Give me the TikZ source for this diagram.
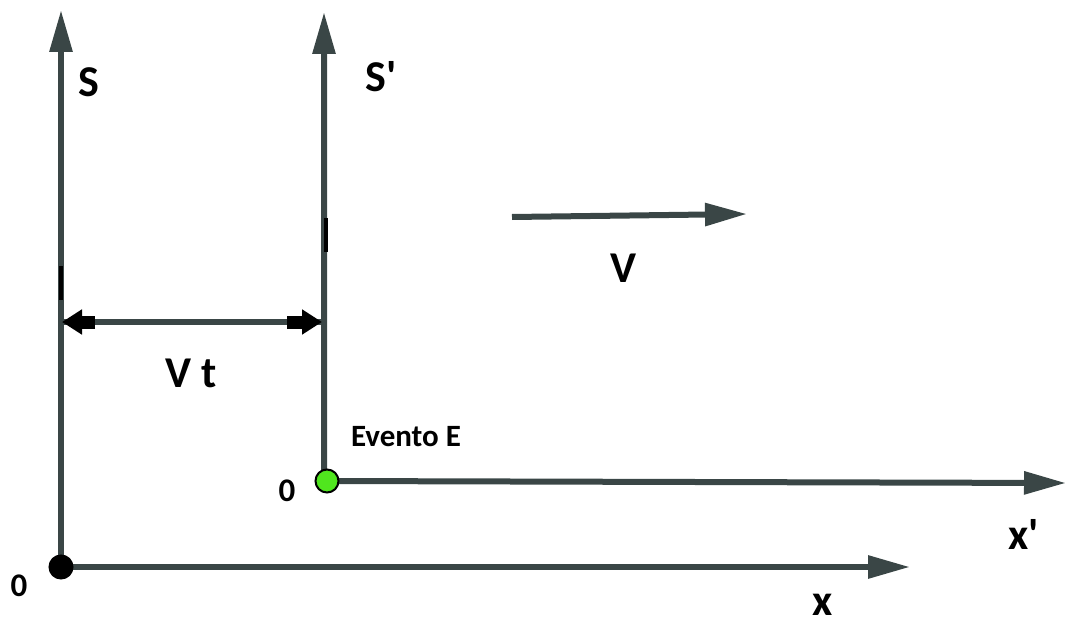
\documentclass[tikz,border=0pt]{standalone}
\usepackage{fontspec}
\setmainfont{Carlito}
\newfontfamily\plainfont{Carlito}[Ligatures=TeXOff]
\usetikzlibrary{arrows.meta}
\definecolor{axis}{RGB}{58,70,70}
\definecolor{evgreen}{RGB}{80,230,30}
\tikzset{
  axisline/.style={draw=axis, line width=6pt, -{Triangle[length=42pt,width=22pt]}},
  lbl/.style={font=\plainfont\bfseries\fontsize{44}{46}\selectfont, text=black, inner sep=0pt},
  small/.style={font=\bfseries\fontsize{31}{33}\selectfont, text=black, inner sep=0pt},
  zero/.style={font=\bfseries\fontsize{33}{35}\selectfont, text=black, inner sep=0pt},
  dot/.style={circle, draw=black, line width=2pt, minimum size=23pt, inner sep=0pt},
  blocktip/.style={draw=black, line width=13pt, -{Triangle[length=20pt,width=24pt]}},
  tick/.style={draw=black, line width=4pt},
}
\begin{document}
\begin{tikzpicture}[x=1pt,y=-1pt]
\useasboundingbox (0,0) rectangle (1066,626);
% origins
\coordinate (O) at (61,567);
\coordinate (Op) at (327,481);
% axis tips
\coordinate (Stip) at (61,10);
\coordinate (xtip) at (910,567);
\coordinate (Sptip) at (324,12);
\coordinate (xptip) at (1066,483);
\coordinate (Vs) at (512,217);
\coordinate (Ve) at (747,214);
% axes
\draw[axisline] (O) -- (Stip);
\draw[axisline] (O) -- (xtip);
\draw[axisline] (Op) -- (324,470) -- (Sptip);
\draw[axisline] (Op) -- (xptip);
\draw[axisline] (Vs) -- (Ve);
% small marks on the vertical axes
\draw[tick] (61,266) -- (61,300);
\draw[tick] (326,218) -- (326,252);
% Vt double arrow
\coordinate (A) at (62,322);
\coordinate (B) at (322,322);
\draw[draw=axis, line width=6pt] (A) -- (B);
\draw[blocktip] (95,322) -- (A);
\draw[blocktip] (287,322) -- (B);
% origin dots
\node[dot, fill=black] (o1) at (O) {};
\node[dot, fill=evgreen] (o2) at (Op) {};
% labels
\node[lbl] (Slab) at (89,82) {S};
\node[lbl] (Splab) at (381,77) {S'};
\node[lbl] (Vlab) at (624,268) {V};
\node[lbl] (Vtlab) at (191,373) {V t};
\node[small] (ev) at (406,437) {Evento E};
\node[zero] (z1) at (19,586) {0};
\node[zero] (z2) at (287,491) {0};
\node[lbl] (xlab) at (823,605) {x};
\node[lbl] (xplab) at (1024,534) {x'};
\end{tikzpicture}
\end{document}
